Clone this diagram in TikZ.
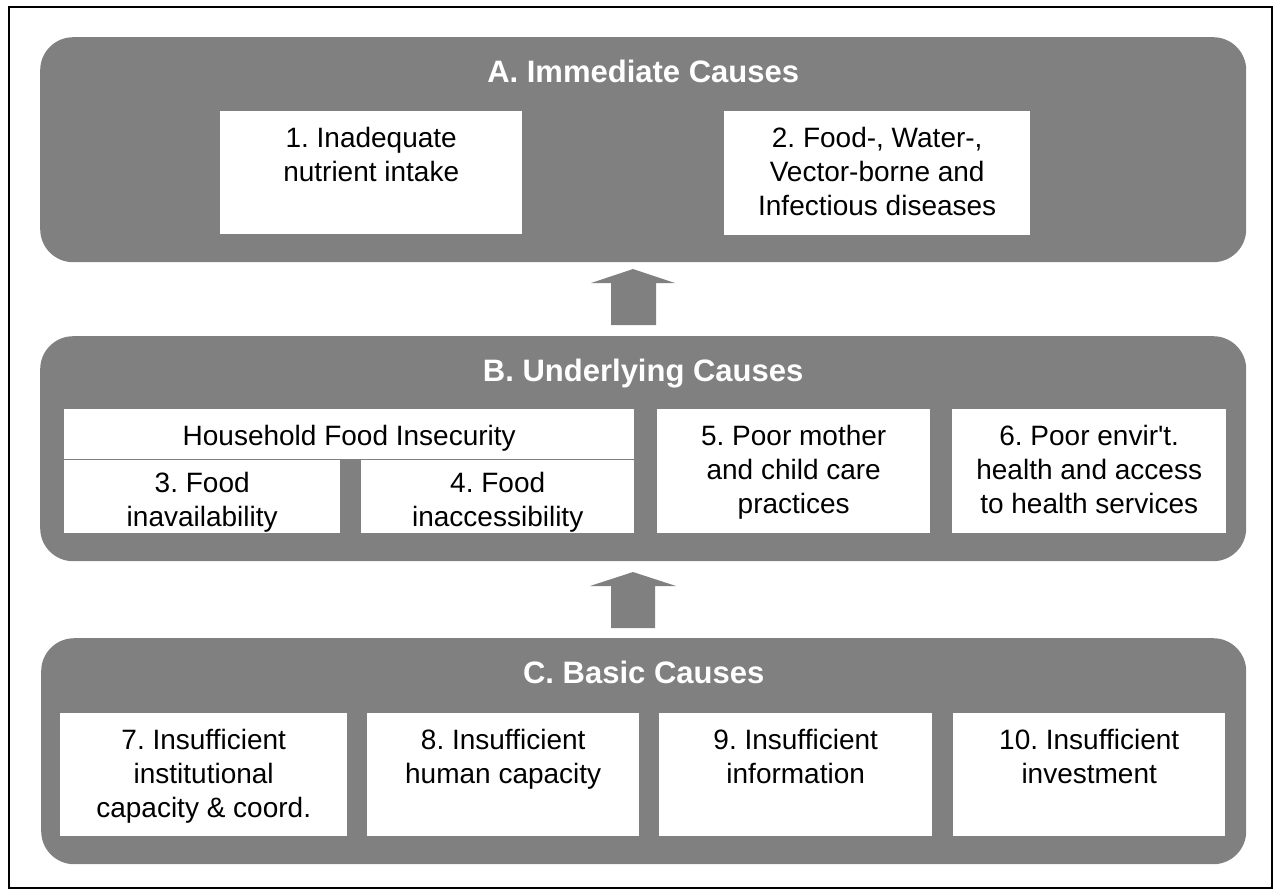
\documentclass[tikz,border=0pt]{standalone}
\usepackage{fontspec}
\newfontfamily\bodyfont{Liberation Sans}[Ligatures=TeXOff]
\definecolor{panelgray}{RGB}{128,128,128}
\frenchspacing
\begin{document}
\begin{tikzpicture}[x=1pt,y=-1pt,
  frame/.style={draw=black, line width=1.5pt, fill=none, inner sep=0, anchor=north west},
  panel/.style={fill=panelgray, draw=none, rounded corners=33pt, inner sep=0, anchor=north west},
  cause/.style={fill=white, draw=none, inner sep=0, anchor=north west},
  title/.style={text=white, font=\bodyfont\bfseries\fontsize{31}{37}\selectfont, anchor=base, inner sep=0},
  label/.style={font=\bodyfont\frenchspacing\fontsize{28}{34}\selectfont, align=center, anchor=north, inner sep=0, text=black},
  bigarrow/.style={fill=panelgray, draw=none}]
\useasboundingbox (0,0) rectangle (1275,895);
\node[frame, minimum width=1263pt, minimum height=881pt] (frame) at (8,6) {};

% panels
\node[panel, minimum width=1206pt, minimum height=225pt] (A) at (40,37) {};
\node[panel, minimum width=1206pt, minimum height=225pt] (B) at (40,336) {};
\node[panel, minimum width=1205pt, minimum height=226pt] (C) at (41,638) {};

\node[title] (Atitle) at ([yshift=-45pt]A.north) {A. Immediate Causes};
\node[title] (Btitle) at ([yshift=-45pt]B.north) {B. Underlying Causes};
\node[title] (Ctitle) at ([yshift=-45pt]C.north) {C. Basic Causes};

% A boxes
\node[cause, minimum width=302pt, minimum height=123pt] (b1) at (220,111) {};
\node[label] (b1t) at ([yshift=-16pt]b1.north) {1. Inadequate\\nutrient intake};
\node[cause, minimum width=306pt, minimum height=124pt] (b2) at (724,111) {};
\node[label] (b2t) at ([yshift=-16pt]b2.north) {2. Food-, Water-,\\Vector-borne and\\Infectious diseases};

% B boxes
\node[cause, minimum width=570pt, minimum height=49.5pt] (hh) at (64,409) {};
\node[label] (hht) at ([yshift=-16pt]hh.north) {Household Food Insecurity};
\node[cause, minimum width=276pt, minimum height=73.5pt] (b3) at (64,459.5) {};
\node[label] (b3t) at ([yshift=-13pt]b3.north) {3. Food\\inavailability};
\node[cause, minimum width=273pt, minimum height=73.5pt] (b4) at (361,459.5) {};
\node[label] (b4t) at ([yshift=-13pt]b4.north) {4. Food\\inaccessibility};
\node[cause, minimum width=273pt, minimum height=124pt] (b5) at (657,409) {};
\node[label] (b5t) at ([yshift=-16pt]b5.north) {5. Poor mother\\and child care\\practices};
\node[cause, minimum width=274pt, minimum height=124pt] (b6) at (952,409) {};
\node[label] (b6t) at ([yshift=-16pt]b6.north) {6. Poor envir't.\\health and access\\to health services};

% C boxes
\node[cause, minimum width=287pt, minimum height=123pt] (b7) at (60,713) {};
\node[label] (b7t) at ([yshift=-16pt]b7.north) {7. Insufficient\\institutional\\capacity \& coord.};
\node[cause, minimum width=272pt, minimum height=123pt] (b8) at (367,713) {};
\node[label] (b8t) at ([yshift=-16pt]b8.north) {8. Insufficient\\human capacity};
\node[cause, minimum width=273pt, minimum height=123pt] (b9) at (659,713) {};
\node[label] (b9t) at ([yshift=-16pt]b9.north) {9. Insufficient\\information};
\node[cause, minimum width=272pt, minimum height=123pt] (b10) at (953,713) {};
\node[label] (b10t) at ([yshift=-16pt]b10.north) {10. Insufficient\\investment};

% block arrows
\coordinate (tipBA) at (633,269);
\fill[bigarrow] (tipBA) -- ++(42,14) -- ++(-19,0) -- ++(0,42) -- ++(-45,0) -- ++(0,-42) -- ++(-20,0) -- cycle;
\coordinate (tipCB) at (633,572);
\fill[bigarrow] (tipCB) -- ++(43,14) -- ++(-21,0) -- ++(0,42) -- ++(-44,0) -- ++(0,-42) -- ++(-21,0) -- cycle;
\end{tikzpicture}
\end{document}
